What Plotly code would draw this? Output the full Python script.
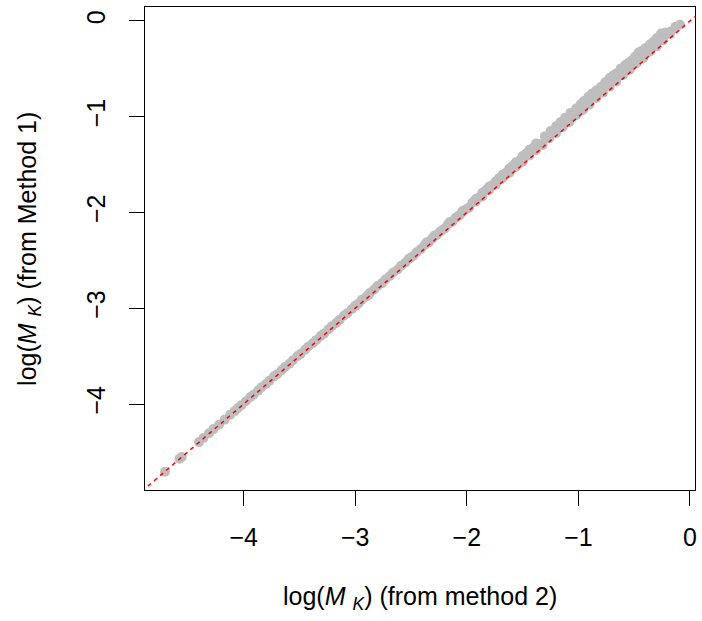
import plotly.graph_objects as go

# log(M_K) from method 2 (x) vs from method 1 (y)
method2 = [
    -4.705, -4.575, -4.555, -4.400, -4.360, -4.310, -4.270, -4.220, -4.170, -4.120, -4.080, -4.050, -4.020,
    -3.98, -3.94, -3.91, -3.87, -3.84, -3.80, -3.77, -3.73, -3.70, -3.66, -3.63, -3.59, -3.56, -3.52, -3.49,
    -3.45, -3.42, -3.38, -3.35, -3.31, -3.28, -3.24, -3.21, -3.17, -3.14, -3.10, -3.07, -3.03, -3.00,
    -2.97, -2.94, -2.90, -2.87, -2.83, -2.80, -2.76, -2.73, -2.69, -2.66, -2.62, -2.59, -2.55, -2.52,
    -2.48, -2.45, -2.41, -2.38, -2.34, -2.31, -2.27, -2.24, -2.20, -2.17, -2.13, -2.10, -2.06, -2.03, -2.00,
    -2.88, -2.50, -2.22, -2.08, -2.36, -2.29, -2.15, -2.04,
    -1.98, -1.92, -1.86, -1.80, -1.74, -1.68, -1.62, -1.56, -1.50, -1.44,
    -1.95, -1.89, -1.83, -1.77, -1.71, -1.65, -1.59, -1.53, -1.47, -1.41,
    -1.92, -1.86, -1.80, -1.74, -1.68, -1.62, -1.56, -1.50, -1.44, -1.38,
    -1.38, -1.32, -1.26, -1.20, -1.14, -1.08, -1.02, -0.96, -0.90, -0.84, -0.78, -0.72, -0.66, -0.60,
    -0.54, -0.48, -0.42, -0.36, -0.30, -0.24, -0.18,
    -1.35, -1.29, -1.23, -1.17, -1.11, -1.05, -0.99, -0.93, -0.87, -0.81, -0.75, -0.69, -0.63, -0.57,
    -0.51, -0.45, -0.39, -0.33, -0.27, -0.21,
    -1.30, -1.20, -1.12, -1.02, -0.95, -0.88, -0.80, -0.72, -0.66, -0.58, -0.52, -0.46, -0.40, -0.33,
    -0.26, -0.17, -0.09,
    -1.25, -1.16, -1.07, -0.98, -0.91, -0.84, -0.76, -0.69, -0.62, -0.55, -0.49, -0.43, -0.36, -0.30,
    -0.22, -0.13,
]
method1 = [
    -4.707, -4.572, -4.553, -4.398, -4.355, -4.305, -4.262, -4.216, -4.163, -4.112, -4.074, -4.041, -4.012,
    -3.972, -3.928, -3.904, -3.860, -3.826, -3.791, -3.758, -3.714, -3.690, -3.647, -3.613, -3.579, -3.545, -3.502, -3.478,
    -3.434, -3.400, -3.366, -3.333, -3.289, -3.265, -3.221, -3.188, -3.154, -3.120, -3.076, -3.052, -3.008, -2.975,
    -2.950, -2.912, -2.877, -2.840, -2.805, -2.768, -2.738, -2.700, -2.663, -2.626, -2.596, -2.557, -2.522, -2.484,
    -2.454, -2.415, -2.380, -2.342, -2.312, -2.270, -2.238, -2.198, -2.170, -2.126, -2.096, -2.054, -2.024, -1.982, -1.962,
    -2.860, -2.470, -2.185, -2.040, -2.310, -2.240, -2.098, -1.988,
    -1.950, -1.885, -1.832, -1.764, -1.710, -1.642, -1.588, -1.525, -1.470, -1.404,
    -1.895, -1.840, -1.768, -1.712, -1.640, -1.585, -1.515, -1.460, -1.385, -1.330,
    -1.860, -1.795, -1.730, -1.675, -1.605, -1.540, -1.475, -1.410, -1.345, -1.280,
    -1.350, -1.295, -1.225, -1.172, -1.108, -1.055, -0.985, -0.930, -0.872, -0.805, -0.750, -0.687, -0.632, -0.565,
    -0.510, -0.444, -0.388, -0.322, -0.265, -0.200, -0.135,
    -1.285, -1.230, -1.160, -1.108, -1.035, -0.982, -0.918, -0.865, -0.792, -0.740, -0.675, -0.622, -0.550, -0.498,
    -0.432, -0.380, -0.315, -0.250, -0.198, -0.132,
    -1.205, -1.100, -1.010, -0.915, -0.835, -0.760, -0.690, -0.595, -0.545, -0.460, -0.410, -0.330, -0.285, -0.220,
    -0.130, -0.110, -0.040,
    -1.150, -1.055, -0.960, -0.870, -0.790, -0.725, -0.640, -0.570, -0.495, -0.435, -0.370, -0.310, -0.245, -0.180,
    -0.120, -0.060,
]

tick_vals = [-4, -3, -2, -1, 0]
tick_text = ["\u22124", "\u22123", "\u22122", "\u22121", "0"]
ref_line = [-6, 1]

x_title = "log(<i>M</i> <sub><i>K</i></sub>) (from method 2)"
y_title = "log(<i>M</i> <sub><i>K</i></sub>) (from Method 1)"

FONT = "Liberation Sans, Arial, sans-serif"

fig = go.Figure()
fig.add_trace(go.Scatter(
    x=method2, y=method1, mode="markers",
    marker=dict(color="#BEBEBE", size=10, line=dict(width=0)),
    showlegend=False, hoverinfo="skip"))
fig.add_trace(go.Scatter(
    x=ref_line, y=ref_line, mode="lines",
    line=dict(color="#FF0000", width=1.5, dash="4px,4px"),
    showlegend=False, hoverinfo="skip"))

axis_common = dict(
    showgrid=False, zeroline=False, showline=True, linecolor="black", linewidth=1.3,
    mirror=True, ticks="outside", ticklen=15, tickwidth=1.3, tickcolor="black",
    tickvals=tick_vals, ticktext=tick_text,
    tickfont=dict(family=FONT, size=25, color="black"),
)

fig.update_layout(
    width=702, height=621,
    margin=dict(l=145, r=5, t=7, b=131),
    paper_bgcolor="white", plot_bgcolor="white",
    xaxis=dict(range=[-4.884, 0.045], ticklabelstandoff=10, **axis_common),
    yaxis=dict(range=[-4.898, 0.146], tickangle=-90, ticklabelstandoff=14, **axis_common),
    annotations=[
        dict(text=x_title, xref="paper", yref="paper", x=0.5, y=-(598 - 490) / 483,
             xanchor="center", yanchor="middle", showarrow=False,
             font=dict(family=FONT, size=25, color="black")),
        dict(text=y_title, xref="paper", yref="paper", x=-(145 - 28) / 552, y=0.5,
             xanchor="center", yanchor="middle", textangle=-90, showarrow=False,
             font=dict(family=FONT, size=25, color="black")),
    ],
)

fig.write_html("out.html")
